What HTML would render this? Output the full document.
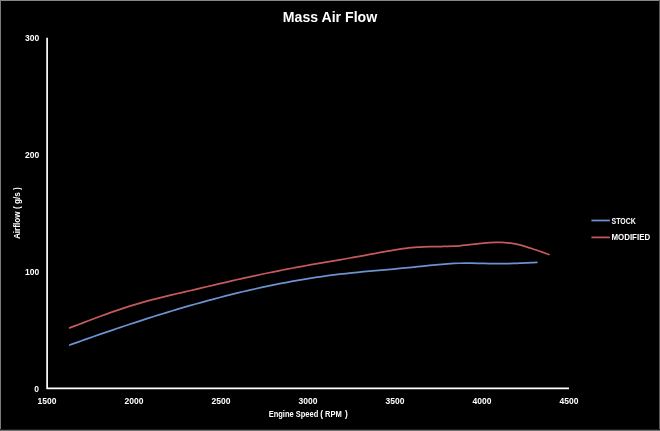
<!DOCTYPE html>
<html><head><meta charset="utf-8"><title>Mass Air Flow</title>
<style>
html,body{margin:0;padding:0;background:#000;}
body{width:660px;height:431px;overflow:hidden;}
svg{display:block;}
text{font-family:"Liberation Sans",sans-serif;font-weight:bold;fill:#fff;}
.t{font-size:8.35px;}
.n{font-size:8.5px;}
</style></head><body>
<svg width="660" height="431" viewBox="0 0 660 431">
<rect x="0" y="0" width="660" height="431" fill="#000"/>
<rect x="0" y="0" width="660" height="1" fill="#868686"/>
<rect x="0" y="0" width="1" height="431" fill="#7a7a7a"/>
<rect x="659" y="0" width="1" height="431" fill="#585858"/>
<rect x="0" y="429" width="660" height="1" fill="#1c1c1c"/>
<rect x="0" y="430" width="660" height="1" fill="#707070"/>
<text x="330" y="22.1" font-size="14.7" text-anchor="middle" textLength="94.4" lengthAdjust="spacingAndGlyphs">Mass Air Flow</text>
<path d="M47.1,37.8 V388.4 H569" stroke="#fff" stroke-width="1.7" fill="none" stroke-linejoin="round"/>
<g class="n" text-anchor="end">
<text x="39.3" y="41">300</text>
<text x="39.3" y="158">200</text>
<text x="39.3" y="275">100</text>
<text x="39" y="391.9">0</text>
</g>
<g class="n" text-anchor="middle">
<text x="47" y="404">1500</text>
<text x="134" y="404">2000</text>
<text x="221" y="404">2500</text>
<text x="308" y="404">3000</text>
<text x="395" y="404">3500</text>
<text x="482" y="404">4000</text>
<text x="569" y="404">4500</text>
</g>
<text class="t" y="417"><tspan x="268.7" textLength="49.6" lengthAdjust="spacingAndGlyphs">Engine Speed</tspan> <tspan x="320.3">(</tspan> <tspan x="325" textLength="16.8" lengthAdjust="spacingAndGlyphs">RPM</tspan> <tspan x="345.1">)</tspan></text>
<text class="t" transform="translate(20.2,213.2) rotate(-90)" text-anchor="middle" textLength="51.8" lengthAdjust="spacingAndGlyphs">Airflow ( g/s )</text>
<path d="M69.70,345.03 C70.70,344.68 73.70,343.60 75.70,342.88 C77.70,342.17 79.70,341.45 81.70,340.74 C83.70,340.03 85.70,339.33 87.70,338.62 C89.70,337.92 91.70,337.22 93.70,336.52 C95.70,335.82 97.70,335.12 99.70,334.43 C101.70,333.73 103.70,333.04 105.70,332.36 C107.70,331.67 109.70,330.98 111.70,330.30 C113.70,329.62 115.70,328.94 117.70,328.27 C119.70,327.60 121.70,326.92 123.70,326.26 C125.70,325.59 127.70,324.93 129.70,324.27 C131.70,323.61 133.70,322.95 135.70,322.30 C137.70,321.64 139.70,320.99 141.70,320.35 C143.70,319.70 145.70,319.06 147.70,318.43 C149.70,317.79 151.70,317.15 153.70,316.53 C155.70,315.90 157.70,315.27 159.70,314.65 C161.70,314.03 163.70,313.42 165.70,312.80 C167.70,312.19 169.70,311.59 171.70,310.98 C173.70,310.38 175.70,309.78 177.70,309.19 C179.70,308.60 181.70,308.01 183.70,307.42 C185.70,306.84 187.70,306.26 189.70,305.69 C191.70,305.12 193.70,304.55 195.70,303.98 C197.70,303.42 199.70,302.86 201.70,302.31 C203.70,301.76 205.70,301.21 207.70,300.67 C209.70,300.12 211.70,299.59 213.70,299.06 C215.70,298.52 217.70,298.00 219.70,297.48 C221.70,296.96 223.70,296.44 225.70,295.94 C227.70,295.43 229.70,294.93 231.70,294.43 C233.70,293.93 235.70,293.44 237.70,292.96 C239.70,292.47 241.70,291.99 243.70,291.52 C245.70,291.05 247.70,290.58 249.70,290.12 C251.70,289.66 253.70,289.21 255.70,288.76 C257.70,288.32 259.70,287.88 261.70,287.44 C263.70,287.01 265.70,286.58 267.70,286.16 C269.70,285.74 271.70,285.33 273.70,284.92 C275.70,284.52 277.70,284.12 279.70,283.73 C281.70,283.33 283.70,282.95 285.70,282.57 C287.70,282.19 289.70,281.82 291.70,281.46 C293.70,281.09 295.70,280.74 297.70,280.39 C299.70,280.04 301.70,279.70 303.70,279.37 C305.70,279.03 307.70,278.71 309.70,278.39 C311.70,278.07 313.70,277.76 315.70,277.46 C317.70,277.15 319.70,276.86 321.70,276.57 C323.70,276.28 325.70,276.01 327.70,275.74 C329.70,275.46 331.70,275.20 333.70,274.95 C335.70,274.69 337.70,274.45 339.70,274.21 C341.70,273.97 343.70,273.74 345.70,273.52 C347.70,273.30 349.70,273.09 351.70,272.88 C353.70,272.67 355.70,272.47 357.70,272.27 C359.70,272.07 361.70,271.88 363.70,271.69 C365.70,271.51 367.70,271.32 369.70,271.14 C371.70,270.96 373.70,270.78 375.70,270.60 C377.70,270.43 379.70,270.25 381.70,270.08 C383.70,269.90 385.70,269.73 387.70,269.55 C389.70,269.38 391.70,269.20 393.70,269.02 C395.70,268.85 397.70,268.67 399.70,268.48 C401.70,268.30 403.70,268.12 405.70,267.93 C407.70,267.73 409.70,267.54 411.70,267.34 C413.70,267.14 415.70,266.94 417.70,266.73 C419.70,266.52 421.70,266.31 423.70,266.10 C425.70,265.89 427.70,265.67 429.70,265.47 C431.70,265.26 433.70,265.06 435.70,264.87 C437.70,264.68 439.70,264.49 441.70,264.32 C443.70,264.16 445.70,264.00 447.70,263.86 C449.70,263.72 451.70,263.59 453.70,263.49 C455.70,263.39 457.70,263.31 459.70,263.25 C461.70,263.20 463.70,263.17 465.70,263.15 C467.70,263.14 469.70,263.15 471.70,263.17 C473.70,263.19 475.70,263.23 477.70,263.27 C479.70,263.31 481.70,263.36 483.70,263.40 C485.70,263.45 487.70,263.50 489.70,263.54 C491.70,263.58 493.70,263.63 495.70,263.65 C497.70,263.67 499.70,263.69 501.70,263.68 C503.70,263.68 505.70,263.65 507.70,263.61 C509.70,263.57 511.70,263.50 513.70,263.42 C515.70,263.35 517.70,263.25 519.70,263.17 C521.70,263.08 523.70,262.97 525.70,262.89 C527.70,262.80 529.85,262.71 531.70,262.64 C533.55,262.57 535.95,262.51 536.80,262.49" fill="none" stroke="#6c92cf" stroke-width="1.75" stroke-linecap="round"/>
<path d="M69.70,327.84 C70.70,327.47 73.70,326.34 75.70,325.59 C77.70,324.83 79.70,324.07 81.70,323.31 C83.70,322.56 85.70,321.79 87.70,321.04 C89.70,320.28 91.70,319.52 93.70,318.77 C95.70,318.02 97.70,317.27 99.70,316.53 C101.70,315.79 103.70,315.05 105.70,314.32 C107.70,313.59 109.70,312.87 111.70,312.16 C113.70,311.46 115.70,310.76 117.70,310.07 C119.70,309.39 121.70,308.71 123.70,308.06 C125.70,307.40 127.70,306.76 129.70,306.13 C131.70,305.51 133.70,304.90 135.70,304.31 C137.70,303.72 139.70,303.14 141.70,302.58 C143.70,302.02 145.70,301.47 147.70,300.93 C149.70,300.39 151.70,299.87 153.70,299.35 C155.70,298.84 157.70,298.33 159.70,297.84 C161.70,297.34 163.70,296.85 165.70,296.36 C167.70,295.88 169.70,295.40 171.70,294.93 C173.70,294.46 175.70,293.99 177.70,293.52 C179.70,293.05 181.70,292.59 183.70,292.12 C185.70,291.66 187.70,291.19 189.70,290.73 C191.70,290.26 193.70,289.79 195.70,289.33 C197.70,288.86 199.70,288.39 201.70,287.92 C203.70,287.44 205.70,286.97 207.70,286.50 C209.70,286.03 211.70,285.56 213.70,285.09 C215.70,284.62 217.70,284.15 219.70,283.68 C221.70,283.22 223.70,282.75 225.70,282.28 C227.70,281.82 229.70,281.36 231.70,280.90 C233.70,280.44 235.70,279.98 237.70,279.52 C239.70,279.07 241.70,278.62 243.70,278.17 C245.70,277.72 247.70,277.28 249.70,276.84 C251.70,276.40 253.70,275.97 255.70,275.54 C257.70,275.11 259.70,274.68 261.70,274.26 C263.70,273.84 265.70,273.42 267.70,273.01 C269.70,272.60 271.70,272.19 273.70,271.78 C275.70,271.38 277.70,270.98 279.70,270.58 C281.70,270.19 283.70,269.80 285.70,269.41 C287.70,269.02 289.70,268.64 291.70,268.26 C293.70,267.88 295.70,267.50 297.70,267.13 C299.70,266.76 301.70,266.39 303.70,266.03 C305.70,265.67 307.70,265.31 309.70,264.95 C311.70,264.60 313.70,264.24 315.70,263.89 C317.70,263.55 319.70,263.20 321.70,262.86 C323.70,262.51 325.70,262.17 327.70,261.83 C329.70,261.49 331.70,261.15 333.70,260.81 C335.70,260.47 337.70,260.13 339.70,259.79 C341.70,259.45 343.70,259.11 345.70,258.76 C347.70,258.42 349.70,258.07 351.70,257.72 C353.70,257.37 355.70,257.02 357.70,256.67 C359.70,256.31 361.70,255.95 363.70,255.59 C365.70,255.23 367.70,254.86 369.70,254.48 C371.70,254.11 373.70,253.72 375.70,253.35 C377.70,252.97 379.70,252.58 381.70,252.21 C383.70,251.83 385.70,251.46 387.70,251.10 C389.70,250.74 391.70,250.38 393.70,250.05 C395.70,249.72 397.70,249.40 399.70,249.10 C401.70,248.81 403.70,248.53 405.70,248.28 C407.70,248.04 409.70,247.82 411.70,247.63 C413.70,247.44 415.70,247.29 417.70,247.17 C419.70,247.05 421.70,246.96 423.70,246.88 C425.70,246.81 427.70,246.76 429.70,246.72 C431.70,246.67 433.70,246.65 435.70,246.61 C437.70,246.58 439.70,246.56 441.70,246.52 C443.70,246.48 445.70,246.45 447.70,246.38 C449.70,246.32 451.70,246.25 453.70,246.15 C455.70,246.04 457.70,245.92 459.70,245.76 C461.70,245.60 463.70,245.39 465.70,245.18 C467.70,244.97 469.70,244.72 471.70,244.48 C473.70,244.25 475.70,243.99 477.70,243.76 C479.70,243.53 481.70,243.29 483.70,243.10 C485.70,242.90 487.70,242.72 489.70,242.60 C491.70,242.47 493.70,242.38 495.70,242.34 C497.70,242.31 499.70,242.32 501.70,242.40 C503.70,242.48 505.70,242.61 507.70,242.83 C509.70,243.04 511.70,243.33 513.70,243.69 C515.70,244.05 517.70,244.49 519.70,244.97 C521.70,245.45 523.70,246.00 525.70,246.58 C527.70,247.17 529.70,247.80 531.70,248.46 C533.70,249.11 535.70,249.80 537.70,250.50 C539.70,251.20 541.83,251.98 543.70,252.65 C545.57,253.32 548.03,254.21 548.90,254.52" fill="none" stroke="#c4595e" stroke-width="1.75" stroke-linecap="round"/>
<path d="M591.4,220.5 H609.9" stroke="#6c92cf" stroke-width="1.75" fill="none"/>
<path d="M591.4,237.4 H609.9" stroke="#c4595e" stroke-width="1.75" fill="none"/>
<text class="t" x="611.5" y="224" textLength="24.3" lengthAdjust="spacingAndGlyphs">STOCK</text>
<text class="t" x="611.5" y="240" textLength="38.6" lengthAdjust="spacingAndGlyphs">MODIFIED</text>
</svg>
</body></html>
